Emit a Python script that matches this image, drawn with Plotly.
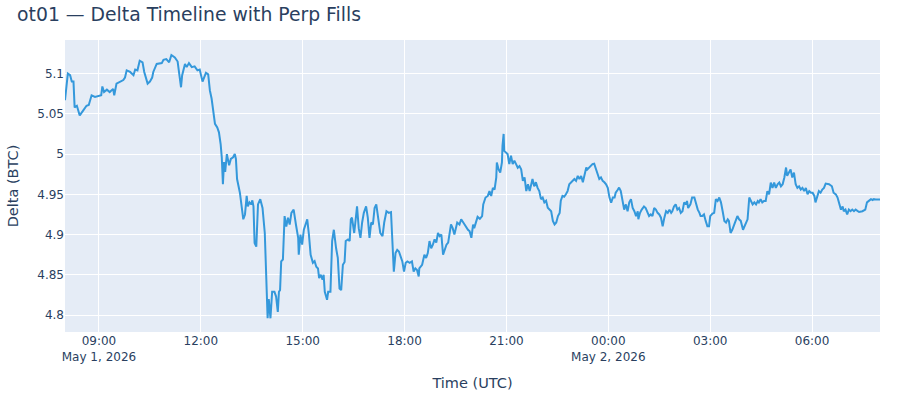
import pandas as pd
import plotly.graph_objects as go

# delta timeline (minutes after 2026-05-01 08:00 UTC)
start = "2026-05-01 08:00"

minutes = [
    0, 5, 9, 12, 15, 17, 21, 26, 32, 38, 42, 47, 53, 59, 64, 66, 69, 74, 79, 85,
    87, 91, 97, 103, 106, 109, 115, 121, 124, 128, 132, 137, 140, 146, 150, 154, 156, 162, 171, 174,
    179, 184, 188, 194, 199, 202, 205, 207, 212, 215, 219, 224, 229, 234, 238,
    243, 249, 253, 256, 259, 262, 265, 269, 272, 275, 277, 279, 281, 283, 286, 290, 293, 297, 300, 302,
    304, 309, 312, 315, 318, 321, 323, 326, 329, 331, 333, 335, 338, 341, 345, 349, 353, 356, 358, 360,
    363, 366, 370, 373, 376, 378, 380, 382, 385, 388, 391, 394, 397, 400, 404, 408, 412, 413, 416, 419,
    422, 425, 428, 431, 434, 438, 441, 444, 447, 449, 452, 455, 457, 459, 463, 465, 469, 472, 475,
    479, 482, 485, 488, 491, 494, 496, 500, 503, 505, 507, 511, 513, 516, 519, 522, 525, 528, 532, 535,
    538, 541, 544, 547, 550, 553, 557, 561, 564, 568, 572, 576, 578, 581, 584, 587, 590, 592, 596, 599,
    602, 605, 609, 613, 616, 619, 622, 625, 626, 631, 635, 638, 641, 644, 647, 650, 653, 656, 659, 662,
    665, 668, 671, 674, 677, 679, 682, 685, 688, 693, 697, 700, 703, 706, 712, 715, 718,
    721, 723, 726, 729, 733, 737, 739, 743, 747, 750, 753, 756, 759, 762, 763, 766, 769, 772, 773, 775,
    776, 779, 782, 785, 788, 791, 794, 797, 800, 803, 806, 809, 812, 815, 818, 821, 823, 826, 829, 832,
    835, 838, 841, 844, 847, 850, 853, 856, 859, 862, 865, 868, 871, 874, 876, 879, 882, 885, 888, 891,
    894, 897, 900, 903, 906, 909, 912, 915, 918, 921, 923, 926, 929, 932, 935, 938, 941, 944, 947, 950,
    953, 956, 959, 962,
    965, 968, 971, 973, 976, 979, 982, 985, 988, 991, 994, 997, 1000, 1003, 1006, 1009, 1012, 1013, 1016, 1019,
    1023, 1026, 1029, 1032, 1035, 1038, 1041, 1044, 1047, 1050, 1053, 1056, 1059, 1062, 1065, 1068, 1071, 1073, 1076, 1079,
    1082, 1085, 1088, 1091, 1094, 1097, 1099, 1101, 1105, 1108, 1112, 1115, 1118, 1121, 1123, 1126, 1129, 1132, 1135, 1138,
    1140, 1144, 1147, 1150, 1153, 1156, 1159, 1162, 1165, 1168, 1171, 1173, 1176, 1179, 1182, 1185, 1188, 1191, 1194,
    1198, 1202, 1206, 1209, 1212, 1215, 1218, 1221, 1224, 1226, 1229, 1232, 1235, 1238, 1241, 1244, 1247, 1250, 1253, 1256,
    1259, 1262, 1265, 1268, 1271, 1274, 1276, 1279, 1282, 1285, 1288, 1291, 1294, 1297, 1300, 1303, 1306, 1309, 1312, 1315,
    1318, 1321, 1324, 1326, 1329, 1332, 1335, 1338, 1341, 1344, 1350, 1355, 1358, 1362, 1365, 1368, 1371, 1374, 1376, 1379,
    1382, 1385, 1388, 1391, 1394, 1397, 1400, 1403, 1409, 1414, 1417, 1421, 1424, 1427, 1429, 1432, 1438, 1440,
]

delta_btc = [
    5.067, 5.100, 5.098, 5.090, 5.090, 5.058, 5.060, 5.048, 5.054, 5.060, 5.061, 5.073, 5.071, 5.072, 5.073, 5.084, 5.077, 5.080, 5.077, 5.081,
    5.073, 5.0875, 5.090, 5.092, 5.095, 5.104, 5.102, 5.098, 5.105, 5.104, 5.116, 5.114, 5.102, 5.0875, 5.090, 5.095, 5.102, 5.112, 5.113, 5.117,
    5.118, 5.114, 5.123, 5.120, 5.115, 5.100, 5.083, 5.098, 5.112, 5.108, 5.113, 5.108, 5.109, 5.104, 5.105,
    5.090, 5.101, 5.099, 5.079, 5.069, 5.052, 5.0375, 5.033, 5.027, 5.0125, 4.996, 4.9625, 4.990, 4.978, 5.000, 4.986, 4.994, 4.996, 5.000, 4.994,
    4.969, 4.952, 4.9375, 4.919, 4.925, 4.948, 4.935, 4.940, 4.9375, 4.9425, 4.935, 4.8895, 4.885, 4.9375, 4.944, 4.933, 4.902, 4.8167, 4.796, 4.820,
    4.796, 4.829, 4.829, 4.823, 4.804, 4.829, 4.831, 4.8667, 4.869, 4.923, 4.910, 4.921, 4.9125, 4.927, 4.931, 4.9125, 4.896, 4.875, 4.900, 4.8875,
    4.906, 4.9125, 4.919, 4.900, 4.875, 4.865, 4.867, 4.860, 4.858, 4.846, 4.850, 4.844, 4.850, 4.829, 4.819, 4.829, 4.829, 4.892, 4.906,
    4.883, 4.871, 4.833, 4.831, 4.8625, 4.866, 4.892, 4.894, 4.892, 4.919, 4.921, 4.902, 4.915, 4.935, 4.908, 4.896, 4.915, 4.927, 4.935, 4.921,
    4.896, 4.915, 4.9125, 4.933, 4.9375, 4.921, 4.902, 4.898, 4.915, 4.929, 4.927, 4.928, 4.904, 4.854, 4.877, 4.881, 4.879, 4.875, 4.8667, 4.854,
    4.865, 4.8667, 4.865, 4.8667, 4.854, 4.858, 4.856, 4.848, 4.858, 4.8625, 4.875, 4.871, 4.877, 4.892, 4.883, 4.8875, 4.894, 4.890, 4.902, 4.898,
    4.900, 4.875, 4.883, 4.8875, 4.890, 4.900, 4.9125, 4.908, 4.900, 4.915, 4.9125, 4.919, 4.915, 4.9125, 4.906, 4.904, 4.896,
    4.9125, 4.908, 4.917, 4.922, 4.9196, 4.923, 4.9375, 4.946, 4.948, 4.954, 4.948, 4.958, 4.956, 4.971, 4.9896, 4.9813, 4.977, 4.9896, 5.0104, 5.025,
    5.004, 5.002, 5.000, 4.9875, 4.998, 4.9875, 4.9917, 4.9875, 4.983, 4.985, 4.981, 4.9667, 4.971, 4.954, 4.9625, 4.954, 4.960, 4.969, 4.960, 4.965,
    4.958, 4.954, 4.944, 4.946, 4.940, 4.942, 4.9333, 4.931, 4.929, 4.917, 4.9125, 4.915, 4.923, 4.927, 4.942, 4.948, 4.947, 4.950, 4.954, 4.9625,
    4.965, 4.9667, 4.969, 4.9667, 4.9729, 4.969, 4.9729, 4.965, 4.975, 4.9833, 4.981, 4.9833, 4.985, 4.9875, 4.988, 4.981, 4.975, 4.969, 4.971, 4.9667,
    4.965, 4.9625, 4.958, 4.946,
    4.9396, 4.946, 4.946, 4.952, 4.955, 4.9583, 4.954, 4.9417, 4.931, 4.9375, 4.929, 4.940, 4.944, 4.933, 4.929, 4.923, 4.929, 4.919, 4.927, 4.931,
    4.935, 4.933, 4.927, 4.923, 4.925, 4.923, 4.933, 4.931, 4.927, 4.925, 4.921, 4.9104, 4.921, 4.929, 4.927, 4.931, 4.927, 4.929, 4.935, 4.9375,
    4.931, 4.933, 4.927, 4.929, 4.940, 4.9375, 4.9417, 4.933, 4.9375, 4.946, 4.946, 4.9375, 4.931, 4.927, 4.923, 4.923, 4.925, 4.917, 4.9104, 4.9104,
    4.923, 4.926, 4.927, 4.944, 4.9417, 4.946, 4.940, 4.929, 4.917, 4.915, 4.919, 4.917, 4.902, 4.906, 4.9125, 4.917, 4.923, 4.919, 4.917,
    4.906, 4.9125, 4.919, 4.946, 4.9417, 4.9375, 4.940, 4.9375, 4.9417, 4.940, 4.944, 4.940, 4.9417, 4.9417, 4.954, 4.950, 4.9646, 4.958, 4.9646, 4.958,
    4.9625, 4.9646, 4.960, 4.9625, 4.971, 4.9833, 4.973, 4.977, 4.981, 4.971, 4.977, 4.9625, 4.958, 4.960, 4.956, 4.958, 4.954, 4.958, 4.950, 4.954,
    4.952, 4.952, 4.948, 4.940, 4.948, 4.954, 4.952, 4.956, 4.958, 4.9633, 4.9625, 4.960, 4.952, 4.950, 4.946, 4.9375, 4.931, 4.935, 4.929, 4.931,
    4.925, 4.931, 4.929, 4.931, 4.929, 4.931, 4.930, 4.928, 4.929, 4.931, 4.940, 4.943, 4.944, 4.943, 4.944, 4.9435, 4.9435, 4.9435,
]

times = pd.Timestamp(start) + pd.to_timedelta(minutes, unit="m")

fig = go.Figure()
fig.add_trace(go.Scatter(
    x=times, y=delta_btc, mode="lines", name="Delta",
    line=dict(color="#3498db", width=2),
))

fig.update_layout(
    font=dict(family="Verdana, DejaVu Sans, sans-serif"),
    title=dict(text="ot01 — Delta Timeline with Perp Fills", font=dict(size=18.8),
               x=0.019, xanchor="left", y=0.965, yanchor="middle"),
    xaxis=dict(title=dict(text="Time (UTC)", font=dict(size=14.5))),
    yaxis=dict(title=dict(text="Delta (BTC)", font=dict(size=14.5)), range=[4.779, 5.1417]),
    width=900, height=400,
    margin=dict(l=65, r=20, t=40, b=68),
    showlegend=False,
)

# drop the default 8px page margin so the figure sits flush in the window
fig.write_html("out.html", config={"displayModeBar": False},
               post_script="document.body.style.margin = '0px';")
